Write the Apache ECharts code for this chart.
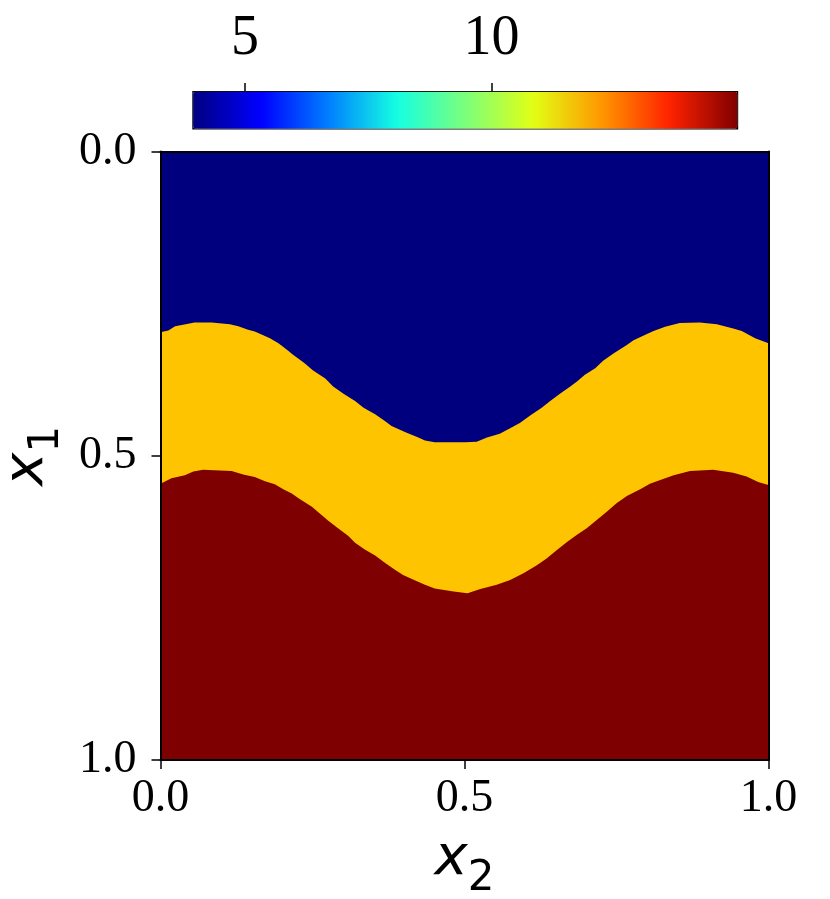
<!DOCTYPE html>
<html>
<head>
<meta charset="utf-8">
<script src="https://cdn.jsdelivr.net/npm/echarts@6/dist/echarts.min.js"></script>
<style>html,body{margin:0;padding:0;background:#fff;}#c{width:830px;height:899px;}</style>
</head>
<body>
<div id="c"></div>
<script>
// ---- data ----
const axisTicks = [0, 0.5, 1];
const colorbarRange = [3.93, 14.97];
const colorbarTicks = [5, 10];
const jetColors = ['#000080', '#0000ff', '#0080ff', '#15ffe2', '#7bff7b', '#e2ff15', '#ff9700', '#ff2200', '#800000'];
const regionNames = ['low', 'middle', 'high'];
const regionValues = [3.93, 11.7, 14.97];
const regionColors = ['#00007f', '#ffc400', '#7f0000'];
const topEdge = [[0, 0], [1, 0]];
const upperBoundary = [
  [0, 0.297], [0.013, 0.294], [0.024, 0.287], [0.035, 0.285], [0.056, 0.281],
  [0.084, 0.281], [0.114, 0.284], [0.128, 0.287], [0.144, 0.293], [0.155, 0.296],
  [0.169, 0.302], [0.180, 0.307], [0.194, 0.315], [0.208, 0.326], [0.218, 0.334],
  [0.236, 0.347], [0.251, 0.360], [0.271, 0.373], [0.284, 0.386], [0.301, 0.398],
  [0.320, 0.410], [0.334, 0.421], [0.353, 0.432], [0.369, 0.443], [0.380, 0.451],
  [0.402, 0.461], [0.424, 0.470], [0.435, 0.475], [0.451, 0.478], [0.501, 0.478],
  [0.520, 0.477], [0.537, 0.470], [0.558, 0.464], [0.575, 0.455], [0.591, 0.446],
  [0.608, 0.434], [0.627, 0.421], [0.641, 0.410], [0.657, 0.398], [0.674, 0.386],
  [0.685, 0.378], [0.698, 0.367], [0.715, 0.356], [0.728, 0.344], [0.745, 0.332],
  [0.767, 0.318], [0.778, 0.310], [0.800, 0.300], [0.811, 0.295], [0.830, 0.288],
  [0.854, 0.282], [0.887, 0.281], [0.915, 0.284], [0.942, 0.291], [0.956, 0.295],
  [0.978, 0.307], [1.0, 0.315]
];
const lowerBoundary = [
  [0, 0.546], [0.018, 0.537], [0.040, 0.532], [0.054, 0.526], [0.070, 0.523],
  [0.117, 0.525], [0.136, 0.531], [0.155, 0.535], [0.172, 0.542], [0.188, 0.547],
  [0.202, 0.555], [0.216, 0.562], [0.227, 0.570], [0.249, 0.584], [0.262, 0.595],
  [0.276, 0.607], [0.292, 0.619], [0.309, 0.632], [0.320, 0.643], [0.336, 0.654],
  [0.353, 0.664], [0.369, 0.676], [0.385, 0.687], [0.399, 0.696], [0.419, 0.705],
  [0.435, 0.712], [0.451, 0.718], [0.482, 0.723], [0.505, 0.726], [0.526, 0.719],
  [0.553, 0.712], [0.575, 0.704], [0.597, 0.693], [0.619, 0.680], [0.635, 0.669],
  [0.652, 0.655], [0.668, 0.642], [0.685, 0.630], [0.701, 0.619], [0.717, 0.606],
  [0.734, 0.592], [0.750, 0.578], [0.767, 0.566], [0.789, 0.555], [0.805, 0.546],
  [0.822, 0.540], [0.844, 0.532], [0.871, 0.525], [0.909, 0.523], [0.942, 0.528],
  [0.964, 0.534], [0.983, 0.543], [1.0, 0.548]
];
const regionEdges = [topEdge, upperBoundary, lowerBoundary];

const serif = 'Liberation Serif';
const nameRich = {
  x: { fontFamily: 'DejaVu Sans', fontStyle: 'italic', fontSize: 56, color: '#000' },
  s: { fontFamily: 'DejaVu Sans', fontSize: 42, color: '#000', padding: [40, 0, 0, 0] }
};
const mainLabel = { fontFamily: serif, fontSize: 46, color: '#000', formatter: v => v.toFixed(1) };

const cbLeft = 192.3, cbWidth = 544.4, cbTop = 91, cbHeight = 37;

const chart = echarts.init(document.getElementById('c'), null, { renderer: 'canvas' });
chart.setOption({
  animation: false,
  backgroundColor: '#fff',
  grid: [
    { left: 160.5, top: 151.5, width: 608, height: 608.5, containLabel: false, outerBoundsMode: 'none' },
    { left: cbLeft, top: cbTop, width: cbWidth, height: cbHeight, containLabel: false, outerBoundsMode: 'none' }
  ],
  visualMap: {
    type: 'continuous', orient: 'horizontal',
    min: colorbarRange[0], max: colorbarRange[1],
    left: cbLeft, top: cbTop, itemWidth: cbHeight, itemHeight: cbWidth,
    padding: 0, calculable: false, showLabel: false, text: null,
    borderColor: '#000', borderWidth: 1.5,
    inRange: { color: jetColors }, seriesIndex: []
  },
  xAxis: [
    {
      gridIndex: 0, type: 'value', min: 0, max: 1, interval: 0.5, position: 'bottom', z: 10,
      axisLine: { show: true, onZero: false, lineStyle: { color: '#000', width: 2 } },
      axisTick: { show: true, length: 9, lineStyle: { color: '#000', width: 1.5 } },
      axisLabel: Object.assign({ margin: 16 }, mainLabel),
      splitLine: { show: false },
      name: '{x|x}{s|2}', nameLocation: 'middle', nameGap: 58,
      nameTextStyle: { rich: nameRich }
    },
    {
      gridIndex: 0, type: 'value', min: 0, max: 1, position: 'top', z: 10,
      axisLine: { show: true, onZero: false, lineStyle: { color: '#000', width: 2 } },
      axisTick: { show: false }, axisLabel: { show: false }, splitLine: { show: false }
    },
    {
      gridIndex: 1, type: 'value', min: colorbarRange[0], max: colorbarRange[1], position: 'top', z: 10,
      axisLine: { show: false },
      axisTick: { show: true, length: 8, customValues: colorbarTicks, lineStyle: { color: '#000', width: 1.5 } },
      axisLabel: { show: true, customValues: colorbarTicks, margin: 24, fontFamily: serif, fontSize: 56, color: '#000' },
      splitLine: { show: false }
    }
  ],
  yAxis: [
    {
      gridIndex: 0, type: 'value', min: 0, max: 1, interval: 0.5, inverse: true, position: 'left', z: 10,
      axisLine: { show: true, onZero: false, lineStyle: { color: '#000', width: 2 } },
      axisTick: { show: true, length: 9, lineStyle: { color: '#000', width: 1.5 } },
      axisLabel: Object.assign({ margin: 24 }, mainLabel),
      splitLine: { show: false },
      name: '{x|x}{s|1}', nameLocation: 'middle', nameGap: 81, nameRotate: 90,
      nameTextStyle: { rich: nameRich }
    },
    {
      gridIndex: 0, type: 'value', min: 0, max: 1, inverse: true, position: 'right', z: 10,
      axisLine: { show: true, onZero: false, lineStyle: { color: '#000', width: 2 } },
      axisTick: { show: false }, axisLabel: { show: false }, splitLine: { show: false }
    },
    { gridIndex: 1, type: 'category', data: ['cb'], show: false }
  ],
  series: regionEdges.map((edge, i) => ({
    name: regionNames[i] + ' (' + regionValues[i] + ')',
    type: 'line', xAxisIndex: 0, yAxisIndex: 0,
    data: edge, showSymbol: false, smooth: false,
    lineStyle: { width: 0 },
    areaStyle: { origin: 'end', color: regionColors[i], opacity: 1 },
    z: 2 + i
  }))
});
</script>
</body>
</html>
